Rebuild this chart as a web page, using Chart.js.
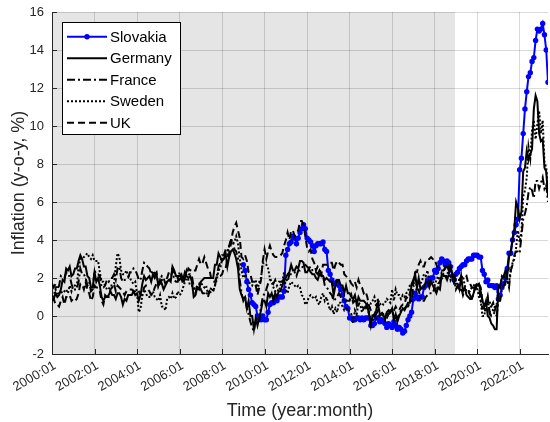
<!DOCTYPE html>
<html><head><meta charset="utf-8">
<script src="https://cdn.jsdelivr.net/npm/chart.js@4/dist/chart.umd.min.js"></script>
<style>
html,body{margin:0;padding:0;overflow:hidden;background:#fff;width:550px;height:422px}
#wrap{position:absolute;left:0;top:0;width:552px;height:422px}
</style>
</head><body><div id="wrap"><canvas id="c" width="552" height="422"></canvas></div>
<script>
// x positions are month indices counted from 2000:01 (index 0)
const xTickLabels = ['2000:01','2002:01','2004:01','2006:01','2008:01','2010:01','2012:01','2014:01','2016:01','2018:01','2020:01','2022:01'];
const xTickStep = 24;
const xMax = 280;            // 2023:05
const shadeEnd = 227.5;      // end of grey period (end of 2018)
const slovakiaStart = 108;   // 2009:01
const ukStart = 0, germanyStart = 0, franceStart = 0, swedenStart = 0;

const germany = [
0.9,0.9,1.2,1.0,1.1,1.4,1.9,1.8,2.5,2.4,2.6,2.1,
2.2,2.5,2.5,2.9,3.2,3.0,2.6,2.6,2.1,2.0,1.5,1.5,
2.3,1.8,2.0,1.6,1.0,0.8,1.0,1.0,1.1,1.3,1.1,1.1,
0.9,1.2,1.2,1.0,0.6,0.9,0.8,1.1,1.1,1.1,1.3,1.1,
1.2,0.8,1.1,1.7,2.1,1.9,2.0,2.1,1.8,2.2,2.0,2.2,
1.6,1.9,1.7,1.4,1.6,1.8,1.9,1.8,2.6,2.4,2.1,2.1,
2.1,2.2,1.9,2.3,2.1,2.0,2.1,1.8,1.0,1.1,1.5,1.4,
1.8,1.9,2.0,2.0,2.0,2.0,2.0,2.0,2.7,2.7,3.3,3.1,
2.9,3.0,3.3,2.6,3.1,3.4,3.5,3.3,3.0,2.5,1.4,1.1,
0.9,1.0,0.4,0.8,0.0,0.0,-0.7,-0.1,-0.5,-0.1,0.3,0.8,
0.8,0.5,1.2,1.0,1.2,0.8,1.2,1.0,1.3,1.3,1.6,1.9,
2.0,2.2,2.3,2.7,2.4,2.4,2.6,2.5,2.9,2.9,2.8,2.3,
2.3,2.5,2.3,2.2,2.2,2.0,1.9,2.2,2.1,2.1,1.9,2.0,
1.9,1.8,1.8,1.1,1.6,1.9,1.9,1.6,1.6,1.2,1.6,1.2,
1.2,1.0,0.9,1.1,0.6,1.0,0.8,0.8,0.8,0.7,0.5,0.1,
-0.5,0.0,0.1,0.3,0.7,0.1,0.1,0.1,-0.2,0.2,0.3,0.2,
0.4,-0.2,0.1,-0.3,0.0,0.2,0.4,0.3,0.5,0.7,0.7,1.7,
1.9,2.2,1.5,2.0,1.4,1.5,1.5,1.8,1.8,1.5,1.8,1.6,
1.4,1.2,1.5,1.4,2.2,2.1,2.1,1.9,2.2,2.6,2.2,1.7,
1.7,1.7,1.4,2.1,1.3,1.5,1.1,1.0,0.9,0.9,1.2,1.5,
1.6,1.7,1.3,0.8,0.5,0.8,0.0,-0.1,-0.4,-0.5,-0.7,-0.7,
1.6,1.6,2.0,2.1,2.4,2.1,3.1,3.4,4.1,4.6,6.0,5.7,
5.1,5.5,7.6,7.8,8.7,8.2,8.5,8.8,10.9,11.6,11.3,9.6,
9.2,9.3,7.8,7.6,6.3];

const slovakia = [
2.7,2.4,1.8,1.4,1.1,0.7,0.6,0.5,0.0,-0.1,-0.2,0.0,
-0.2,-0.2,0.2,0.6,0.7,0.7,1.0,0.8,1.0,1.0,1.0,1.3,
3.2,3.5,3.8,3.9,4.2,4.1,3.8,4.1,4.4,4.6,4.8,4.6,
4.1,4.0,3.9,3.7,3.4,3.7,3.8,3.8,3.8,3.9,3.5,3.4,
2.4,2.2,1.9,1.7,1.7,1.8,1.6,1.4,1.1,0.8,0.5,0.4,
-0.1,-0.1,-0.2,-0.2,-0.1,-0.1,-0.2,-0.1,-0.2,-0.1,-0.1,-0.1,
-0.5,-0.5,-0.4,-0.1,-0.1,-0.3,-0.2,-0.3,-0.4,-0.6,-0.4,-0.5,
-0.6,-0.3,-0.5,-0.7,-0.6,-0.7,-0.9,-0.8,-0.5,-0.2,0.0,0.2,
0.9,1.2,1.0,0.9,1.0,1.0,1.5,1.6,1.9,1.8,2.0,2.0,
2.4,2.3,2.5,2.8,3.0,2.9,2.7,2.9,2.8,2.6,2.1,1.9,
2.2,2.3,2.5,2.6,2.7,2.7,2.9,3.0,3.0,3.0,3.2,3.2,
3.2,3.1,3.1,2.4,2.2,1.8,1.9,1.6,1.6,1.6,1.5,1.6,
0.9,1.1,1.5,1.7,2.0,2.5,3.3,3.3,4.0,4.4,4.8,5.1,
7.7,8.3,9.6,10.9,11.8,12.6,12.8,13.4,13.6,14.5,15.1,15.0,
15.1,15.4,14.8,14.0,12.3];

const france = [
1.7,1.5,1.7,1.4,1.6,2.1,2.0,2.0,2.3,2.1,2.1,1.7,
1.4,1.4,1.4,1.8,2.5,2.2,2.2,2.0,1.6,1.8,1.3,1.4,
2.4,2.2,2.2,2.1,1.5,1.5,1.6,1.9,1.8,2.0,2.0,2.2,
1.9,2.5,2.6,2.0,1.8,1.9,1.9,2.0,2.3,2.3,2.5,2.4,
2.2,1.9,1.9,2.4,2.8,2.7,2.6,2.5,2.2,2.4,2.2,2.3,
1.6,1.9,2.1,2.0,1.7,1.8,1.8,2.0,2.4,1.9,1.8,1.8,
2.3,2.0,1.7,2.0,2.4,2.2,2.2,2.1,1.5,1.2,1.6,1.7,
1.4,1.2,1.2,1.3,1.0,1.3,1.2,1.3,1.6,2.1,2.6,2.8,
3.2,3.2,3.5,3.4,3.7,4.0,4.0,3.5,3.4,3.0,1.9,1.2,
0.8,1.0,0.4,0.1,-0.3,-0.6,-0.8,-0.2,-0.4,-0.2,0.5,1.0,
1.2,1.4,1.7,1.9,1.9,1.7,1.9,1.6,1.8,1.8,1.8,2.0,
2.0,1.8,2.2,2.2,2.2,2.3,2.1,2.4,2.4,2.5,2.7,2.7,
2.6,2.5,2.6,2.4,2.3,2.3,2.2,2.4,2.2,2.1,1.6,1.5,
1.4,1.2,1.1,0.8,0.9,1.0,1.2,1.0,1.0,0.7,0.8,0.8,
0.8,1.1,0.7,0.8,0.8,0.6,0.6,0.5,0.4,0.5,0.4,0.1,
-0.4,-0.3,0.0,0.1,0.3,0.3,0.2,0.1,0.1,0.1,0.1,0.3,
0.3,-0.1,-0.1,-0.1,0.1,0.3,0.4,0.4,0.5,0.5,0.7,0.8,
1.6,1.4,1.4,1.4,0.9,0.8,0.8,1.0,1.1,1.2,1.2,1.2,
1.5,1.3,1.7,1.8,2.3,2.3,2.6,2.6,2.5,2.5,2.2,1.9,
1.4,1.6,1.3,1.5,1.1,1.4,1.3,1.3,1.1,0.9,1.2,1.6,
1.7,1.6,0.8,0.4,0.4,0.2,0.9,0.2,0.0,0.1,0.2,0.0,
0.8,0.8,1.4,1.6,1.8,1.9,1.5,2.4,2.7,3.2,3.4,3.4,
3.3,4.2,5.1,5.4,5.8,6.5,6.8,6.6,6.2,7.1,7.1,6.7,
7.0,7.3,6.7,6.9,6.0];

const sweden = [
1.0,1.1,1.4,1.1,1.2,1.3,1.2,1.3,1.4,1.2,1.6,1.3,
1.6,1.6,1.5,2.6,3.0,3.0,3.1,3.2,3.3,3.1,3.0,3.2,
2.9,2.9,2.9,2.3,1.8,1.8,1.6,1.4,1.4,1.6,1.6,1.7,
2.6,3.3,3.1,2.4,2.2,2.2,2.4,2.1,2.0,1.8,1.7,1.8,
1.2,0.2,0.4,1.1,1.4,1.2,1.0,1.0,1.1,1.3,1.0,0.9,
0.8,1.1,0.5,0.5,0.3,0.9,1.0,0.9,1.2,0.9,1.0,1.3,
1.1,1.2,1.5,1.8,2.0,1.9,1.6,1.6,1.5,1.4,1.6,1.4,
1.8,1.6,1.5,1.6,1.2,1.3,1.5,1.3,1.6,1.9,2.4,2.5,
3.0,3.0,3.2,3.2,3.7,4.0,3.8,3.9,4.2,3.8,3.0,2.4,
2.0,2.2,2.0,1.8,1.7,1.6,1.8,1.9,1.4,1.8,2.0,2.8,
2.7,2.7,2.5,2.0,1.8,1.5,1.3,1.4,1.3,1.6,1.8,2.3,
1.4,1.2,1.6,1.8,1.7,1.6,1.5,1.6,1.5,1.1,1.0,0.6,
0.7,1.0,1.1,1.0,0.9,1.0,0.7,0.6,1.0,1.2,0.8,1.0,
0.6,0.3,0.5,0.1,0.4,0.2,0.7,0.7,0.5,0.3,0.4,0.4,
0.2,0.1,-0.4,0.3,0.1,0.7,0.6,0.2,0.4,0.4,0.6,0.2,
0.7,0.8,1.0,0.5,0.9,0.6,0.7,0.6,0.7,0.9,0.8,0.7,
1.4,0.8,1.4,1.1,1.1,0.9,1.1,1.0,1.2,1.3,1.6,1.7,
1.6,2.0,1.5,1.9,1.7,1.9,2.2,2.1,2.4,1.7,1.8,1.8,
1.6,1.9,2.1,1.8,1.9,2.2,2.1,2.1,2.5,1.9,2.1,2.2,
1.9,1.9,1.9,2.0,2.1,1.6,1.3,1.3,1.3,1.5,1.6,1.7,
1.5,1.0,0.8,0.0,0.0,0.6,0.7,0.8,0.4,0.3,0.5,0.6,
1.6,1.5,2.1,2.0,2.1,1.8,1.8,2.4,2.8,3.0,3.6,4.5,
3.9,4.4,6.3,6.6,7.3,8.9,8.3,9.8,10.3,9.3,10.1,10.8,
9.6,10.3,8.1,7.8,6.7];

const uk = [
0.8,0.9,0.6,0.6,0.5,0.8,1.0,0.6,1.0,1.0,1.1,0.8,
0.9,0.8,0.9,1.2,1.7,1.7,1.4,1.8,1.3,1.2,0.8,1.0,
1.6,1.5,1.5,1.3,0.8,0.6,1.1,1.0,1.0,1.4,1.5,1.7,
1.3,1.6,1.5,1.4,1.3,1.1,1.3,1.4,1.4,1.4,1.3,1.3,
1.4,1.3,1.1,1.1,1.5,1.6,1.4,1.3,1.1,1.2,1.5,1.7,
1.6,1.7,1.9,1.9,1.9,2.0,2.3,2.4,2.5,2.3,2.1,2.0,
1.9,2.0,1.8,2.0,2.2,2.5,2.4,2.5,2.4,2.4,2.7,3.0,
2.7,2.8,3.1,2.8,2.5,2.4,1.9,1.8,1.8,2.1,2.1,2.1,
2.2,2.5,2.5,3.0,3.3,3.8,4.4,4.7,4.9,4.5,4.1,3.1,
3.0,3.2,2.9,2.3,2.2,1.8,1.8,1.6,1.1,1.5,1.9,2.9,
3.5,3.0,3.4,3.7,3.4,3.2,3.1,3.1,3.1,3.2,3.3,3.7,
4.0,4.4,4.0,4.5,4.5,4.2,4.4,4.5,5.0,5.0,4.8,4.2,
3.6,3.4,3.5,3.0,2.8,2.4,2.6,2.5,2.2,2.7,2.7,2.7,
2.7,2.8,2.8,2.4,2.7,2.9,2.8,2.7,2.7,2.2,2.1,2.0,
1.9,1.7,1.6,1.8,1.5,1.9,1.6,1.5,1.2,1.3,1.0,0.5,
0.3,0.0,0.0,-0.1,0.1,0.0,0.1,0.0,-0.1,-0.1,0.1,0.2,
0.3,0.3,0.5,0.3,0.3,0.5,0.6,0.6,1.0,0.9,1.2,1.6,
1.8,2.3,2.3,2.7,2.9,2.6,2.6,2.9,3.0,3.0,3.1,3.0,
3.0,2.7,2.5,2.4,2.4,2.4,2.5,2.7,2.4,2.4,2.3,2.1,
1.8,1.9,1.9,2.1,2.0,2.0,2.1,1.7,1.7,1.5,1.5,1.3,
1.8,1.7,1.5,0.8,0.5,0.6,1.0,0.2,0.5,0.7,0.3,0.6];

const FONT = '"Liberation Sans", Arial, Helvetica, sans-serif';
const AXIS_COLOR = '#262626';
Chart.defaults.font.family = FONT;

const toPts = (arr, start) => arr.map((v, i) => ({x: start + i, y: v}));

const shadePlugin = {
  id: 'shade',
  beforeDraw(chart) {
    const {ctx, chartArea: a, scales: {x}} = chart;
    const x0 = x.getPixelForValue(0), x1 = x.getPixelForValue(shadeEnd);
    ctx.save();
    ctx.fillStyle = 'rgb(229,229,229)';
    ctx.fillRect(x0, a.top, x1 - x0, a.bottom - a.top);
    ctx.restore();
  }
};

const tickPlugin = {
  id: 'innerTicks',
  beforeDatasetsDraw(chart) {
    const {ctx, chartArea: a, scales: {x, y}} = chart;
    ctx.save();
    ctx.strokeStyle = AXIS_COLOR; ctx.lineWidth = 1;
    ctx.beginPath();
    y.ticks.forEach(t => { const p = Math.round(y.getPixelForValue(t.value)) + 0.5; ctx.moveTo(a.left, p); ctx.lineTo(a.left + 5, p); });
    x.ticks.forEach(t => { const p = Math.round(x.getPixelForValue(t.value)) + 0.5; ctx.moveTo(p, a.bottom); ctx.lineTo(p, a.bottom - 5); });
    ctx.stroke();
    ctx.restore();
  }
};

const legendPlugin = {
  id: 'boxLegend',
  afterDraw(chart) {
    const {ctx, chartArea: a} = chart;
    const x0 = a.left + 10, y0 = a.top + 10, w = 118, h = 112;
    ctx.save();
    ctx.fillStyle = '#fff';
    ctx.fillRect(x0, y0, w, h);
    ctx.strokeStyle = '#000'; ctx.lineWidth = 1;
    ctx.strokeRect(x0 + 0.5, y0 + 0.5, w, h);
    ctx.font = '15px ' + FONT;
    ctx.textBaseline = 'middle';
    chart.data.datasets.forEach((ds, i) => {
      const yy = y0 + 14.7 + i * 21.5;
      ctx.beginPath();
      ctx.setLineDash(ds.borderDash || []);
      ctx.strokeStyle = ds.borderColor; ctx.lineWidth = ds.borderWidth;
      ctx.moveTo(x0 + 5, yy); ctx.lineTo(x0 + 45, yy); ctx.stroke();
      ctx.setLineDash([]);
      if (ds.pointRadius > 0) {
        ctx.beginPath(); ctx.arc(x0 + 25, yy, ds.pointRadius, 0, Math.PI * 2);
        ctx.fillStyle = ds.pointBackgroundColor; ctx.fill();
      }
      ctx.fillStyle = '#000';
      ctx.fillText(ds.label, x0 + 48, yy + 1);
    });
    ctx.restore();
  }
};

new Chart(document.getElementById('c'), {
  type: 'line',
  data: {
    datasets: [
      {label: 'Slovakia', data: toPts(slovakia, slovakiaStart), borderColor: '#0000ff', backgroundColor: '#0000ff', pointBackgroundColor: '#0000ff', borderWidth: 2, pointRadius: 2.7, pointBorderWidth: 0, order: 5},
      {label: 'Germany', data: toPts(germany, germanyStart), borderColor: '#000', borderWidth: 2, pointRadius: 0, order: 4},
      {label: 'France', data: toPts(france, franceStart), borderColor: '#000', borderWidth: 2, borderDash: [8, 3, 2, 3], pointRadius: 0, order: 3},
      {label: 'Sweden', data: toPts(sweden, swedenStart), borderColor: '#000', borderWidth: 2, borderDash: [2, 2], pointRadius: 0, order: 2},
      {label: 'UK', data: toPts(uk, ukStart), borderColor: '#000', borderWidth: 2, borderDash: [7, 4], pointRadius: 0, order: 1}
    ]
  },
  options: {
    responsive: false, animation: false, devicePixelRatio: 1,
    layout: {padding: {left: 0, right: 0, top: 12, bottom: 0}},
    plugins: {legend: {display: false}, tooltip: {enabled: false}},
    elements: {line: {tension: 0, fill: false}},
    events: [],
    scales: {
      x: {
        type: 'linear', min: 0, max: xMax,
        afterBuildTicks: s => { s.ticks = xTickLabels.map((l, i) => ({value: i * xTickStep})); },
        afterFit: s => { s.height = 68; s.paddingLeft = 0; s.paddingRight = 0; },
        ticks: {autoSkip: false, minRotation: 30, maxRotation: 30, padding: 4, labelOffset: 3, color: AXIS_COLOR, font: {size: 13},
                callback: v => xTickLabels[Math.round(v / xTickStep)]},
        grid: {color: 'rgba(0,0,0,0.15)', drawTicks: false},
        border: {display: true, color: AXIS_COLOR, width: 1},
        title: {display: true, text: 'Time (year:month)', color: AXIS_COLOR, font: {size: 18}, padding: {top: 0, bottom: 0}}
      },
      y: {
        min: -2, max: 16,
        afterFit: s => { s.width = 52; s.paddingTop = 0; s.paddingBottom = 0; },
        ticks: {stepSize: 2, padding: 8, color: AXIS_COLOR, font: {size: 13}},
        grid: {color: 'rgba(0,0,0,0.15)', drawTicks: false},
        border: {display: true, color: AXIS_COLOR, width: 1},
        title: {display: true, text: 'Inflation (y-o-y, %)', color: AXIS_COLOR, font: {size: 18}, padding: {top: 8, bottom: 0}}
      }
    }
  },
  plugins: [shadePlugin, tickPlugin, legendPlugin]
});
</script>
</body></html>
